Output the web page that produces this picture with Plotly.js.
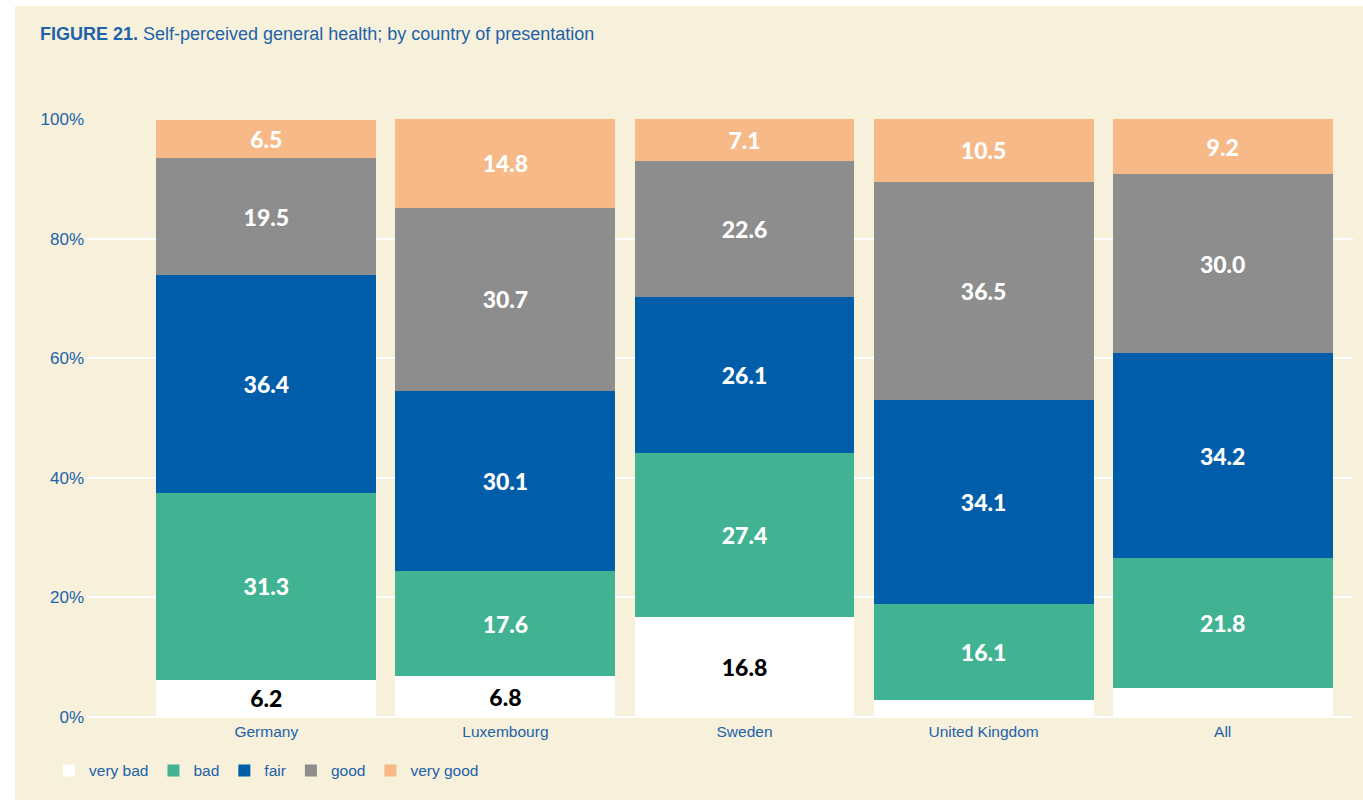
<!DOCTYPE html>
<html>
<head>
<meta charset="utf-8">
<script src="https://cdn.plot.ly/plotly-3.0.1.min.js"></script>
<style>
  html, body { margin: 0; padding: 0; background: #ffffff; }
  #chart { position: absolute; left: 15px; top: 6px; width: 1348px; height: 794px; }
</style>
</head>
<body>
<div id="chart"></div>
<script>
const categories = ["Germany", "Luxembourg", "Sweden", "United Kingdom", "All"];
const veryBad  = [6.2, 6.8, 16.8, 2.8, 4.8];
const bad      = [31.3, 17.6, 27.4, 16.1, 21.8];
const fair     = [36.4, 30.1, 26.1, 34.1, 34.2];
const good     = [19.5, 30.7, 22.6, 36.5, 30.0];
const veryGood = [6.5, 14.8, 7.1, 10.5, 9.2];
const seriesNames = ["very bad", "bad", "fair", "good", "very good"];
const yTickVals = [0, 20, 40, 60, 80, 100];
const yTickText = ["0%", "20%", "40%", "60%", "80%", "100%"];

const colors = ["#ffffff", "#41b393", "#005daa", "#8c8d8c", "#f7b987"];
const textColors = ["#000000", "#ffffff", "#ffffff", "#ffffff", "#ffffff"];
const allSeries = [veryBad, bad, fair, good, veryGood];

const labelFont = "Lato, 'Open Sans', sans-serif";
const textFont = "'Liberation Sans', Arial, sans-serif";
const blue = "#1d62ab";

const traces = allSeries.map((vals, i) => ({
  type: "bar",
  name: seriesNames[i],
  x: categories,
  y: vals,
  width: 0.92,
  marker: { color: colors[i], line: { width: 0 } },
  text: vals.map(v => v >= 6 ? v.toFixed(1) : ""),
  textposition: "inside",
  insidetextanchor: "middle",
  textangle: 0,
  constraintext: "none",
  textfont: { family: labelFont, size: 23, color: textColors[i], weight: 900 },
  hoverinfo: "skip"
}));

const layout = {
  width: 1348,
  height: 794,
  barmode: "stack",
  paper_bgcolor: "#f7f0da",
  plot_bgcolor: "#f7f0da",
  margin: { l: 72, r: 10, t: 113, b: 83 },
  font: { family: textFont, color: blue, size: 14 },
  title: {
    text: "<b>FIGURE 21.</b> Self-perceived general health; by country of presentation",
    font: { family: textFont, size: 18, color: blue },
    xref: "container", yref: "container",
    x: 25 / 1348, xanchor: "left",
    y: 1 - 28 / 794, yanchor: "middle"
  },
  xaxis: {
    type: "category",
    range: [-0.75, 4.545],
    showgrid: false,
    zeroline: false,
    showline: false,
    ticks: "",
    ticklabelstandoff: 3,
    tickfont: { family: textFont, size: 15.5, color: blue }
  },
  yaxis: {
    range: [0, 100],
    tickvals: yTickVals,
    ticktext: yTickText,
    showgrid: true,
    gridcolor: "#ffffff",
    gridwidth: 2,
    zeroline: true,
    zerolinecolor: "#ffffff",
    zerolinewidth: 2,
    showline: false,
    ticks: "",
    ticklabelstandoff: 2,
    tickfont: { family: textFont, size: 17, color: blue }
  },
  showlegend: true,
  legend: {
    orientation: "h",
    traceorder: "normal",
    x: -0.03, xanchor: "left",
    y: -0.09, yanchor: "middle",
    font: { family: textFont, size: 15.5, color: blue },
    bgcolor: "rgba(0,0,0,0)",
    itemwidth: 30,
    tracegroupgap: 0
  },
  bargap: 0.08
};

Plotly.newPlot("chart", traces, layout, { displayModeBar: false, staticPlot: true });
</script>
</body>
</html>
